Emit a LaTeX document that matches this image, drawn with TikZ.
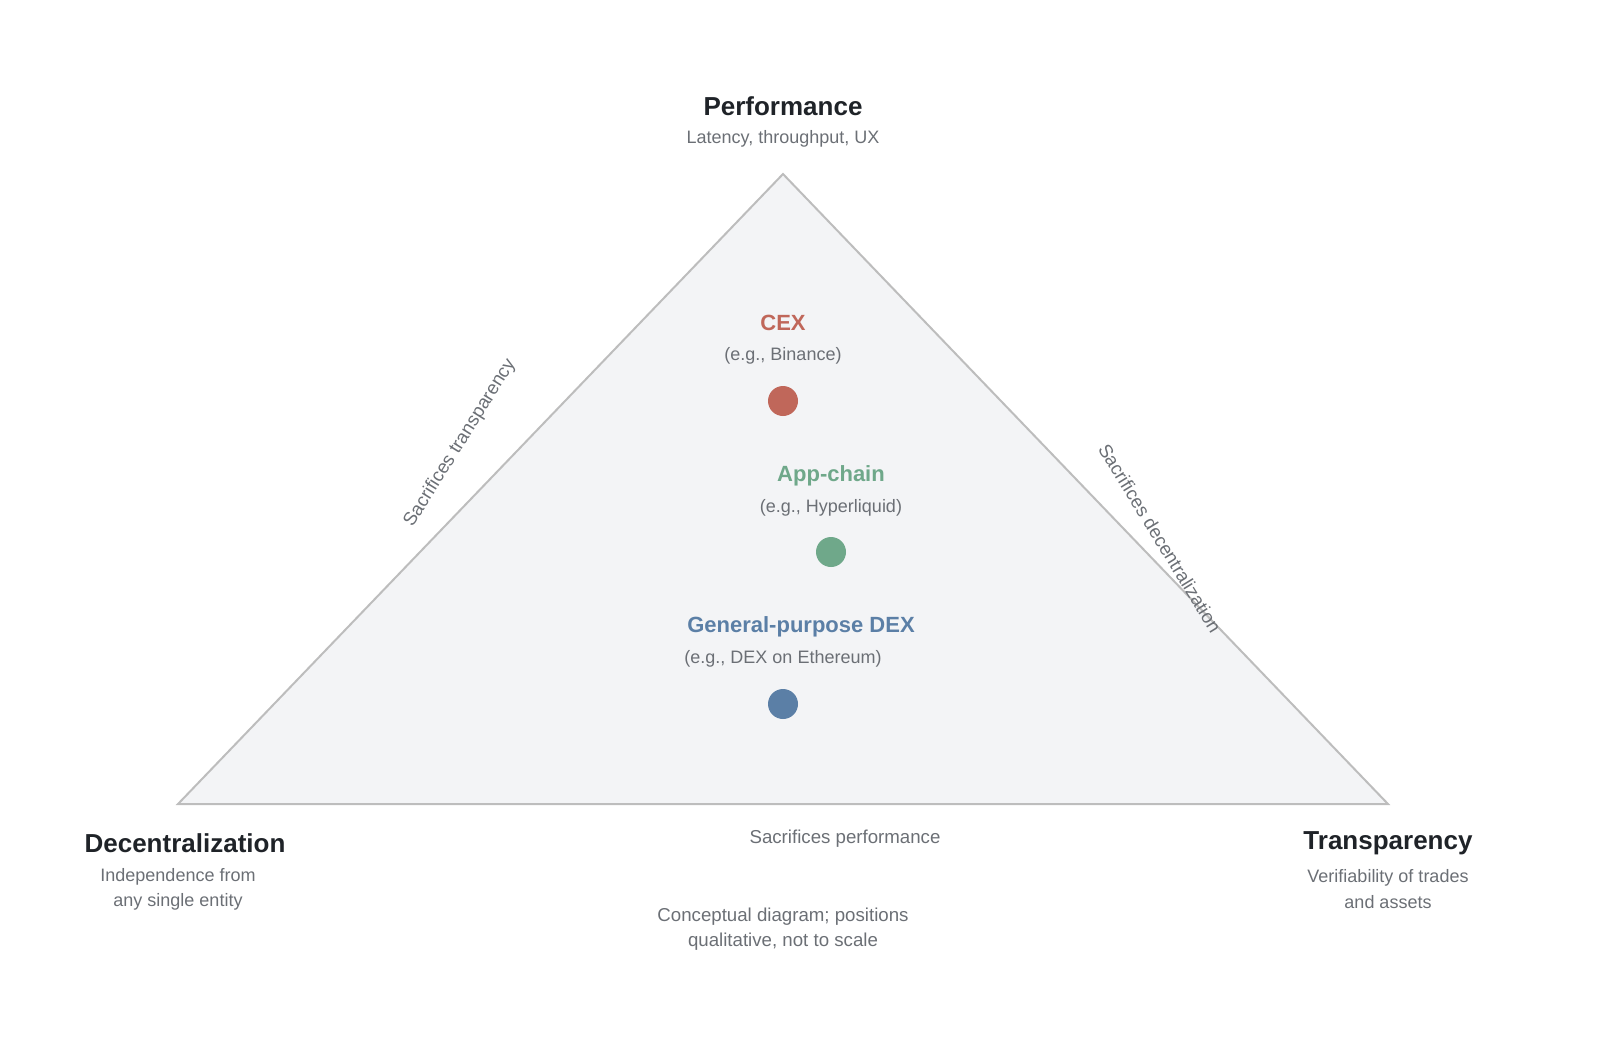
\documentclass[tikz,border=0pt]{standalone}
\usepackage{fontspec}
\setmainfont{Liberation Sans}
\definecolor{dark}{HTML}{1F2328}
\definecolor{sub}{HTML}{6B6F75}
\definecolor{tri}{HTML}{F3F4F6}
\definecolor{edge}{HTML}{BDBDBD}
\definecolor{cexc}{HTML}{C0675A}
\definecolor{appc}{HTML}{6FA88A}
\definecolor{dexc}{HTML}{5B7FA6}
\begin{document}
\begin{tikzpicture}[x=0.75pt,y=-0.75pt,
  title/.style={font=\fontsize{19.5}{22}\selectfont\bfseries,text=dark},
  subt/.style={font=\fontsize{13.5}{19}\selectfont,text=sub,align=center},
  lab/.style={font=\fontsize{16.5}{20}\selectfont\bfseries},
  elab/.style={font=\fontsize{14}{16}\selectfont,text=sub},
  dot/.style={circle,minimum size=22.5pt,inner sep=0pt}]
\useasboundingbox (0,0) rectangle (1600,1040);
\coordinate (T) at (783,174);
\coordinate (L) at (178,804);
\coordinate (R) at (1388,804);
\draw[edge,fill=tri,line width=1.5pt] (T) -- (L) -- (R) -- cycle;
\node[title] (perf) at (783,106) {Performance};
\node[subt] (perfs) at (783,139) {Latency, throughput, UX};
\node[title] (dec) at (185,843) {Decentralization};
\node[subt] (decs) at (178,889) {Independence from\\any single entity};
\node[title] (tra) at (1388,843) {Transparency};
\node[subt] (tras) at (1388,889) {Verifiability of trades\\and assets};
\node[elab,rotate=58] (e1) at (460,443) {Sacrifices transparency};
\node[elab,rotate=-58.5] (e2) at (1160,538) {Sacrifices decentralization};
\node[elab] (e3) at (845,839) {Sacrifices performance};
\node[lab,text=cexc] (cex) at (783,323) {CEX};
\node[subt] (cexs) at (783,356) {(e.g., Binance)};
\node[dot,fill=cexc] (cexd) at (783,401) {};
\node[lab,text=appc] (app) at (831,476) {App-chain};
\node[subt] (apps) at (831,508) {(e.g., Hyperliquid)};
\node[dot,fill=appc] (appd) at (831,552) {};
\node[lab,text=dexc] (dex) at (801,627) {General-purpose DEX};
\node[subt] (dexs) at (783,659) {(e.g., DEX on Ethereum)};
\node[dot,fill=dexc] (dexd) at (783,704) {};
\node[subt,font=\fontsize{14}{19}\selectfont] (note) at (783,929) {Conceptual diagram; positions\\qualitative, not to scale};
\end{tikzpicture}
\end{document}
